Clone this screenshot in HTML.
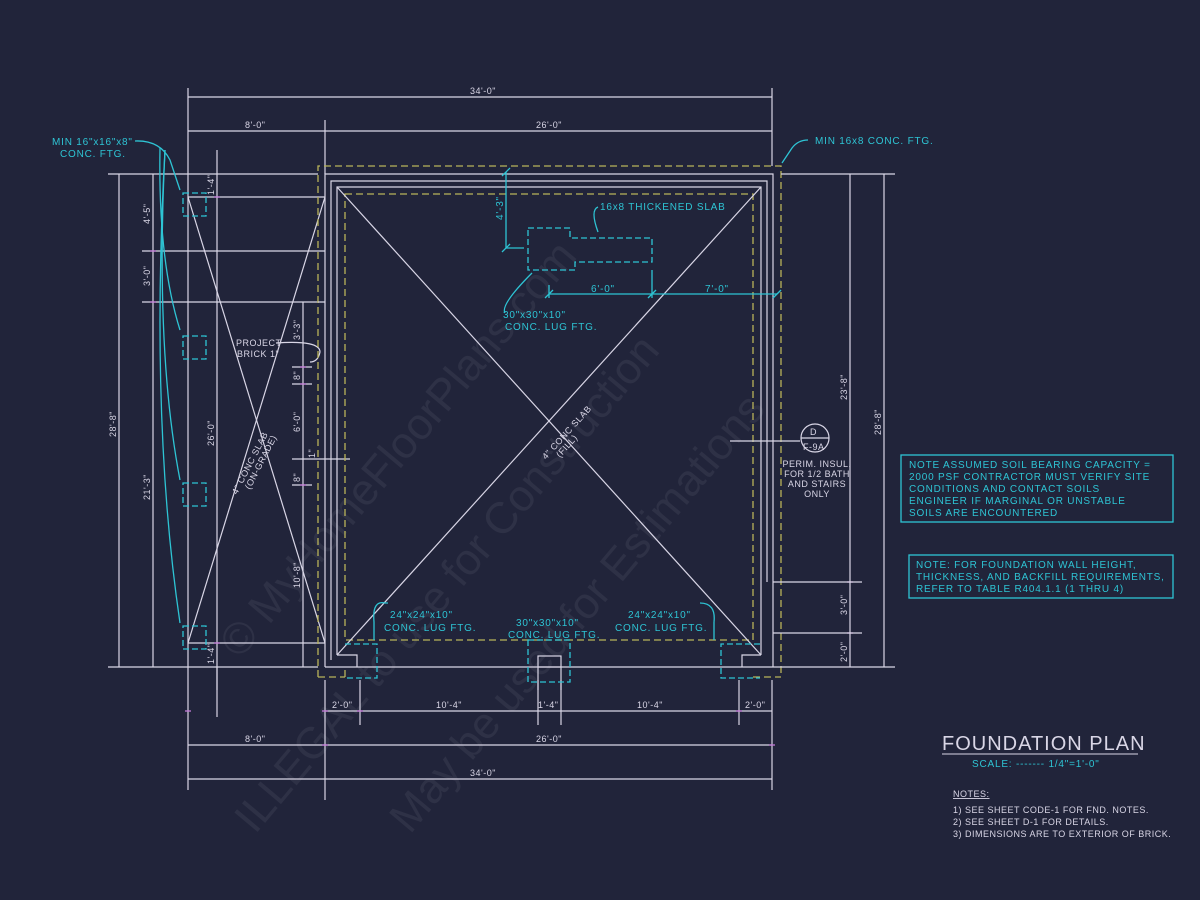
<!DOCTYPE html>
<html><head><meta charset="utf-8"><style>
html,body{margin:0;padding:0;background:#21243a;}
svg{display:block;}
text{font-family:"Liberation Sans",sans-serif;}
.w{stroke:#d9d6e6;stroke-width:1.2;fill:none}
.wt{fill:#d9d6e6;font-size:9px;letter-spacing:0.5px}
.c{stroke:#2ec4d4;stroke-width:1.3;fill:none}
.cd{stroke:#2ec4d4;stroke-width:1.3;fill:none;stroke-dasharray:6 3}
.ct{fill:#2ec4d4;font-size:10px;letter-spacing:0.8px}
.y{stroke:#b8b35a;stroke-width:1.3;fill:none;stroke-dasharray:7 4}
.m{stroke:#c47ad8;stroke-width:1.3}
.wm{fill:#8a8c9c;opacity:0.12;font-family:"Liberation Serif",serif;font-size:44px}
</style></head><body>
<svg width="1200" height="900" viewBox="0 0 1200 900" xmlns="http://www.w3.org/2000/svg">
<rect width="1200" height="900" fill="#21243a"/>

<g class="wm">
<text transform="translate(240,660) rotate(-50)">© MyHomeFloorPlans.com</text>
<text transform="translate(255,835) rotate(-50)">ILLEGAL to use for Construction</text>
<text transform="translate(410,835) rotate(-50)">May be used for Estimations</text>
</g>

<g class="w">
<line x1="188" y1="88" x2="188" y2="680"/>
<line x1="772" y1="88" x2="772" y2="166"/>
<line x1="188" y1="97" x2="772" y2="97"/>
<line x1="188" y1="131" x2="772" y2="131"/>
<line x1="325" y1="120" x2="325" y2="174"/>
</g>
<text class="wt" x="470" y="94">34'-0"</text>
<text class="wt" x="245" y="128">8'-0"</text>
<text class="wt" x="536" y="128">26'-0"</text>

<g class="w">
<line x1="188" y1="745" x2="772" y2="745"/>
<line x1="188" y1="779" x2="772" y2="779"/>
<line x1="325" y1="711" x2="772" y2="711"/>
<line x1="188" y1="680" x2="188" y2="790"/>
<line x1="772" y1="680" x2="772" y2="790"/>
<line x1="325" y1="680" x2="325" y2="800"/>
<line x1="360" y1="680" x2="360" y2="725"/>
<line x1="538" y1="680" x2="538" y2="725"/>
<line x1="561" y1="680" x2="561" y2="725"/>
<line x1="739" y1="680" x2="739" y2="725"/>
<line x1="217" y1="667" x2="217" y2="717"/>
</g>
<text class="wt" x="332" y="708">2'-0"</text>
<text class="wt" x="436" y="708">10'-4"</text>
<text class="wt" x="538" y="708">1'-4"</text>
<text class="wt" x="637" y="708">10'-4"</text>
<text class="wt" x="745" y="708">2'-0"</text>
<text class="wt" x="245" y="742">8'-0"</text>
<text class="wt" x="536" y="742">26'-0"</text>
<text class="wt" x="470" y="776">34'-0"</text>

<g class="w">
<line x1="108" y1="174" x2="318" y2="174"/>
<line x1="119" y1="174" x2="119" y2="667"/>
<line x1="153" y1="174" x2="153" y2="667"/>
<line x1="142" y1="251" x2="318" y2="251"/>
<line x1="142" y1="302" x2="318" y2="302"/>
<line x1="108" y1="667" x2="318" y2="667"/>
<line x1="217" y1="150" x2="217" y2="690"/>
<line x1="303" y1="302" x2="303" y2="667"/>
<line x1="188" y1="197" x2="325" y2="197"/>
<line x1="188" y1="643" x2="325" y2="643"/>
<line x1="188" y1="197" x2="325" y2="643"/>
<line x1="325" y1="197" x2="188" y2="643"/>
<line x1="292" y1="367" x2="312" y2="367"/>
<line x1="292" y1="384" x2="312" y2="384"/>
<line x1="292" y1="459" x2="350" y2="459"/>
<line x1="292" y1="485" x2="312" y2="485"/>
</g>
<g class="m">
<line x1="150" y1="251" x2="156" y2="251"/><line x1="150" y1="302" x2="156" y2="302"/>
<line x1="214" y1="197" x2="220" y2="197"/><line x1="214" y1="643" x2="220" y2="643"/>
<line x1="300" y1="367" x2="306" y2="367"/><line x1="300" y1="384" x2="306" y2="384"/>
<line x1="300" y1="485" x2="306" y2="485"/><line x1="185" y1="711" x2="191" y2="711"/>
<line x1="322" y1="711" x2="328" y2="711"/><line x1="357" y1="711" x2="363" y2="711"/>
<line x1="736" y1="711" x2="742" y2="711"/><line x1="769" y1="745" x2="775" y2="745"/>
<line x1="322" y1="745" x2="328" y2="745"/><line x1="847" y1="582" x2="853" y2="582"/>
<line x1="847" y1="633" x2="853" y2="633"/>
</g>
<g class="wt">
<text transform="translate(150,224) rotate(-90)">4'-5"</text>
<text transform="translate(150,286) rotate(-90)">3'-0"</text>
<text transform="translate(150,500) rotate(-90)">21'-3"</text>
<text transform="translate(116,437) rotate(-90)">28'-8"</text>
<text transform="translate(214,446) rotate(-90)">26'-0"</text>
<text transform="translate(214,195) rotate(-90)">1'-4"</text>
<text transform="translate(214,664) rotate(-90)">1'-4"</text>
<text transform="translate(300,340) rotate(-90)">3'-3"</text>
<text transform="translate(300,380) rotate(-90)">8"</text>
<text transform="translate(300,432) rotate(-90)">6'-0"</text>
<text transform="translate(300,482) rotate(-90)">8"</text>
<text transform="translate(300,588) rotate(-90)">10'-8"</text>
<text transform="translate(315,458) rotate(-90)">1"</text>
</g>
<text class="wt" x="236" y="346">PROJECT</text>
<text class="wt" x="237" y="357">BRICK 1"</text>
<path class="w" d="M276 343 Q320 340 320 352 Q318 362 310 362"/>
<text class="wt" transform="translate(237,495) rotate(-63)">4" CONC SLAB</text>
<text class="wt" transform="translate(250,490) rotate(-63)">(ON-GRADE)</text>

<path class="y" d="M318 677 V166 H781 V677"/>
<path class="y" d="M318 677 H345 M345 677 V668 M753 677 H781"/>
<rect class="y" x="345" y="194" width="408" height="446"/>
<g class="w">
<path d="M325 667 V174 H773 V667"/>
<path d="M331 660 V181 H767 V582"/>
<path d="M337 655 V187 H761 V655"/>
<path d="M337 655 H357 V667 M761 655 H742 V667"/>
<path d="M325 251 H318 M325 302 H318"/>
<line x1="325" y1="667" x2="773" y2="667"/>
<line x1="337" y1="187" x2="761" y2="655"/>
<line x1="761" y1="187" x2="337" y2="655"/>
<rect x="538" y="656" width="23" height="11"/>
<line x1="538" y1="667" x2="538" y2="690"/><line x1="561" y1="667" x2="561" y2="690"/>
<line x1="773" y1="582" x2="862" y2="582"/>
<line x1="773" y1="633" x2="862" y2="633"/>
<line x1="773" y1="667" x2="895" y2="667"/>
<line x1="781" y1="174" x2="895" y2="174"/>
<line x1="850" y1="174" x2="850" y2="667"/>
<line x1="884" y1="174" x2="884" y2="667"/>
<line x1="730" y1="441" x2="800" y2="441"/>
<circle cx="815" cy="438" r="14"/>
<line x1="801" y1="438" x2="829" y2="438"/>
</g>
<text class="wt" transform="translate(546,460) rotate(-48)">4" CONC SLAB</text>
<text class="wt" transform="translate(560,458) rotate(-48)">(FILL)</text>
<text class="wt" x="810" y="435">D</text>
<text class="wt" x="803" y="450">F-9A</text>
<g class="wt" text-anchor="middle" font-size="8">
<text x="817" y="467">PERIM. INSUL.</text>
<text x="817" y="477">FOR 1/2 BATH</text>
<text x="817" y="487">AND STAIRS</text>
<text x="817" y="497">ONLY</text>
</g>
<g class="wt">
<text transform="translate(847,400) rotate(-90)">23'-8"</text>
<text transform="translate(881,435) rotate(-90)">28'-8"</text>
<text transform="translate(847,615) rotate(-90)">3'-0"</text>
<text transform="translate(847,662) rotate(-90)">2'-0"</text>
</g>

<rect class="cd" x="183" y="193" width="23" height="23"/>
<rect class="cd" x="183" y="336" width="23" height="23"/>
<rect class="cd" x="183" y="483" width="23" height="23"/>
<rect class="cd" x="183" y="626" width="23" height="23"/>
<path class="cd" d="M345 644 H377 V678 H345"/>
<rect class="cd" x="528" y="640" width="42" height="42"/>
<path class="cd" d="M760 644 H721 V678 H760"/>
<path class="cd" d="M528 228 H570 V238 H652 V262 H575 V270 H528 Z"/>
<g class="c">
<path d="M135 141 Q160 140 170 160 L180 190"/>
<path d="M160 148 Q158 260 180 330"/>
<path d="M165 150 Q155 350 180 480"/>
<path d="M165 150 Q150 420 180 623"/>
<path d="M374 622 Q372 600 385 603 L388 603 M374 622 V640"/>
<path d="M714 622 Q716 603 700 603 M714 622 V640"/>
<path d="M598 207 Q590 210 598 232"/>
<path d="M532 273 Q500 305 505 313"/>
<line x1="506" y1="172" x2="506" y2="248"/>
<line x1="506" y1="248" x2="524" y2="248"/>
<line x1="549" y1="294" x2="777" y2="294"/>
<line x1="549" y1="285" x2="549" y2="298"/>
<line x1="652" y1="270" x2="652" y2="298"/>
<path d="M782 163 L792 148 Q798 140 808 140"/>
<line x1="502" y1="176" x2="510" y2="168"/><line x1="502" y1="252" x2="510" y2="244"/>
<line x1="545" y1="298" x2="553" y2="290"/><line x1="648" y1="298" x2="656" y2="290"/>
<line x1="773" y1="298" x2="781" y2="290"/>
</g>
<text class="ct" x="52" y="145">MIN 16"x16"x8"</text>
<text class="ct" x="60" y="157">CONC. FTG.</text>
<text class="ct" x="815" y="144">MIN 16x8 CONC. FTG.</text>
<text class="ct" x="600" y="210">16x8 THICKENED SLAB</text>
<text class="ct" x="503" y="318">30"x30"x10"</text>
<text class="ct" x="505" y="330">CONC. LUG FTG.</text>
<text class="ct" x="390" y="618">24"x24"x10"</text>
<text class="ct" x="384" y="631">CONC. LUG FTG.</text>
<text class="ct" x="516" y="626">30"x30"x10"</text>
<text class="ct" x="508" y="638">CONC. LUG FTG.</text>
<text class="ct" x="628" y="618">24"x24"x10"</text>
<text class="ct" x="615" y="631">CONC. LUG FTG.</text>
<text class="ct" font-size="8" transform="translate(503,220) rotate(-90)">4'-3"</text>
<text class="ct" font-size="8" x="591" y="292">6'-0"</text>
<text class="ct" font-size="8" x="705" y="292">7'-0"</text>

<rect class="c" x="901" y="455" width="272" height="67" stroke-width="1"/>
<g class="ct" font-size="9.5">
<text x="909" y="468">NOTE ASSUMED SOIL BEARING CAPACITY =</text>
<text x="909" y="480">2000 PSF CONTRACTOR MUST VERIFY SITE</text>
<text x="909" y="492">CONDITIONS AND CONTACT SOILS</text>
<text x="909" y="504">ENGINEER IF MARGINAL OR UNSTABLE</text>
<text x="909" y="516">SOILS ARE ENCOUNTERED</text>
</g>
<rect class="c" x="909" y="555" width="264" height="43" stroke-width="1"/>
<g class="ct" font-size="9.5">
<text x="916" y="568">NOTE: FOR FOUNDATION WALL HEIGHT,</text>
<text x="916" y="580">THICKNESS, AND BACKFILL REQUIREMENTS,</text>
<text x="916" y="592">REFER TO TABLE R404.1.1 (1 THRU 4)</text>
</g>

<text x="942" y="750" fill="#d9d6e6" font-size="20" letter-spacing="1" font-weight="300">FOUNDATION PLAN</text>
<line x1="942" y1="754" x2="1138" y2="754" stroke="#d9d6e6" stroke-width="1"/>
<text class="ct" x="972" y="767">SCALE: ------- 1/4"=1'-0"</text>
<g class="wt" font-size="8">
<text x="953" y="797" text-decoration="underline">NOTES:</text>
<text x="953" y="813">1)  SEE SHEET CODE-1 FOR FND. NOTES.</text>
<text x="953" y="825">2)  SEE SHEET D-1 FOR DETAILS.</text>
<text x="953" y="837">3)  DIMENSIONS ARE TO EXTERIOR OF BRICK.</text>
</g>
</svg>
</body></html>
